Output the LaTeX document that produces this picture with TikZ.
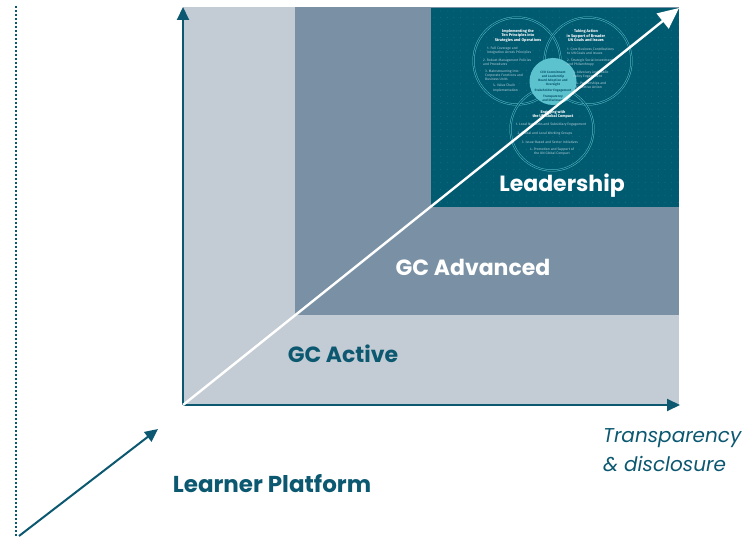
\documentclass[tikz,border=0pt]{standalone}
\usepackage{fontspec}
\setmainfont{Fira Sans}
\newfontfamily\labelfont{Poppins}
\usetikzlibrary{arrows.meta}

\definecolor{paleslate}{HTML}{C3CBD4}
\definecolor{midslate}{HTML}{7A91A5}
\definecolor{deepteal}{HTML}{005B71}
\definecolor{axisteal}{HTML}{0B5870}
\definecolor{gridteal}{HTML}{237086}
\definecolor{ringcyan}{HTML}{5EC1CD}
\definecolor{corecyan}{HTML}{5CC3CE}
\definecolor{itemgrey}{HTML}{B3CCD6}

\tikzset{
  axis/.style={line width=2pt, draw=axisteal, -{Triangle[length=13pt,width=12pt]}},
  growth/.style={line width=2.4pt, draw=white, -{Triangle[length=21pt,width=19pt]}},
  tier/.style={font=\labelfont\fontsize{22}{26}\selectfont\bfseries, inner sep=0pt},
  ring/.style={draw=ringcyan, line width=0.45pt, double=deepteal, double distance=1.1pt},
  ringtitle/.style={font=\fontsize{3.9}{4.6}\selectfont\bfseries, text=white, align=center, inner sep=0pt},
  ringitem/.style={font=\fontsize{3.4}{4.1}\selectfont, text=itemgrey, align=left, inner sep=0pt, anchor=west},
  ringitemc/.style={font=\fontsize{3.4}{4.1}\selectfont, text=itemgrey, align=center, inner sep=0pt},
  coreitem/.style={font=\fontsize{3.2}{3.8}\selectfont\bfseries, text=axisteal, align=center, inner sep=0pt},
  guide/.style={line width=2pt, draw=axisteal, dash pattern=on 2pt off 2pt},
}

\begin{document}
\begin{tikzpicture}[x=1pt,y=-1pt]
\useasboundingbox (0,0) rectangle (750,540);

% stepped maturity areas
\fill[paleslate] (183,7.3) rectangle (679,405);
\fill[midslate] (295,6.7) rectangle (679,315);
\fill[deepteal] (431,8.3) rectangle (679,207);

% faint dot grid on the leadership area
\foreach \i in {0,...,37} {
  \foreach \j in {0,...,29} {
    \fill[gridteal] (434+\i*6.6, 11+\j*6.6) circle (0.45);
  }
}

% the three overlapping rings
\draw[ring] (517,61) circle (43.5);
\draw[ring] (588,61) circle (43.5);
\draw[ring] (552,129) circle (41.5);
\fill[corecyan] (553,81.5) circle (23.5);

% left ring
\node[ringtitle] (ltitle) at (518,35.5) {Implementing the\\Ten Principles into\\Strategies and Operations};
\node[ringitem] (l1) at (487,51) {1. Full Coverage and\\Integration Across Principles};
\node[ringitem] (l2) at (483,62) {2. Robust Management Policies\\and Procedures};
\node[ringitem] (l3) at (485,75.5) {3. Mainstreaming into\\Corporate Functions and\\Business Units};
\node[ringitem] (l4) at (493,88) {4. Value Chain\\Implementation};

% right ring
\node[ringtitle] (rtitle) at (586,35.5) {Taking Action\\in Support of Broader\\UN Goals and Issues};
\node[ringitem] (r1) at (567,51) {1. Core Business Contributions\\to UN Goals and Issues};
\node[ringitem] (r2) at (567,62.5) {2. Strategic Social Investments\\and Philanthropy};
\node[ringitem] (r3) at (573,74.5) {3. Advocacy and Public\\Policy Engagement};
\node[ringitem] (r4) at (576,85.5) {4. Partnerships and\\Collective Action};

% bottom ring
\node[ringtitle] (btitle) at (553,114.5) {Engaging with\\the UN Global Compact};
\node[ringitemc] (b1) at (551,125) {1. Local Networks and Subsidiary Engagement};
\node[ringitemc] (b2) at (545,134) {2. Global and Local Working Groups};
\node[ringitemc] (b3) at (550,142) {3. Issue-Based and Sector Initiatives};
\node[ringitemc] (b4) at (552,151.5) {4. Promotion and Support of\\the UN Global Compact};

% shared core
\node[coreitem] (c1) at (553,74.5) {CEO Commitment\\and Leadership};
\node[coreitem] (c2) at (553,82.5) {Board Adoption and\\Oversight};
\node[coreitem] (c3) at (553,90.5) {Stakeholder Engagement};
\node[coreitem] (c4) at (553,98.5) {Transparency\\and Disclosure};

% tier labels
\node[tier, text=white] (lead) at (562,186) {Leadership};
\node[tier, text=white] (adv) at (473,267) {GC Advanced};
\node[tier, text=axisteal] (act) at (343,354) {GC Active};

% axes
\coordinate (origin) at (183,405);
\coordinate (ytip) at (183,7);
\coordinate (xtip) at (680,405);
\coordinate (dtip) at (679,8);
\draw[axis] (origin) -- (ytip);
\draw[axis] (origin) -- (xtip);
\draw[growth] (origin) -- (dtip);

\node[font=\labelfont\fontsize{20}{29}\selectfont\itshape, text=axisteal, align=left, anchor=north west, inner sep=0pt] (tx) at (603,428) {Transparency\\\& disclosure};

% learner platform lead-in: dotted guide and rising arrow
\coordinate (dtop) at (16,6);
\coordinate (dbot) at (16,536);
\draw[guide] (dtop) -- (dbot);
\coordinate (lstart) at (19,536);
\coordinate (lend) at (158,429);
\draw[line width=2pt, draw=axisteal, -{Triangle[length=13pt,width=12pt]}] (lstart) -- (lend);
\node[tier, font=\labelfont\fontsize{23}{26}\selectfont\bfseries, text=axisteal] (learn) at (272,484) {Learner Platform};
\end{tikzpicture}
\end{document}
